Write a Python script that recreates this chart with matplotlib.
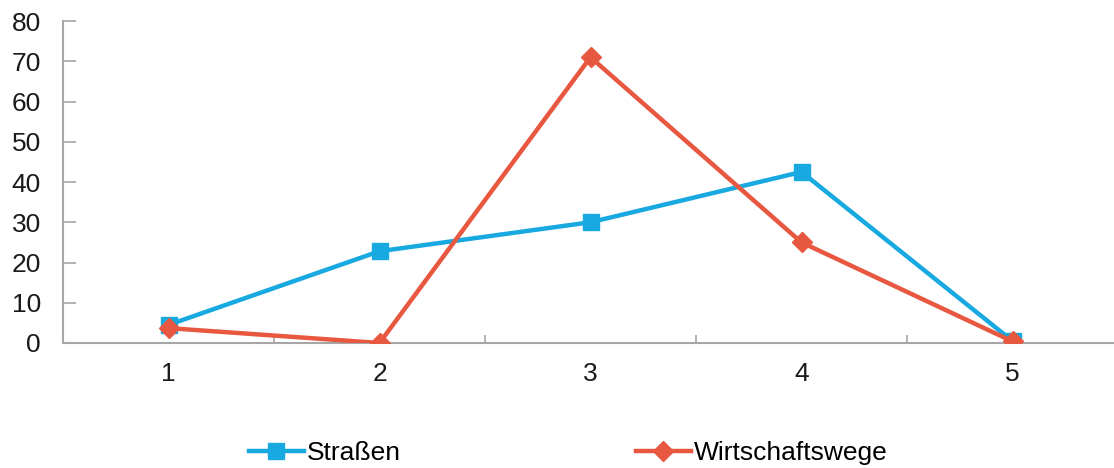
import matplotlib
matplotlib.use("Agg")
import matplotlib.pyplot as plt
from matplotlib.ticker import FixedLocator

plt.rcParams['font.family'] = ['Liberation Sans', 'DejaVu Sans']

categories = ['1', '2', '3', '4', '5']
strassen = [4.5, 22.8, 30.0, 42.5, 0.5]
wirtschaftswege = [3.7, 0.0, 71.0, 25.0, 0.4]
yticks = [0, 10, 20, 30, 40, 50, 60, 70, 80]

blue = '#18A9E1'
red = '#E8573F'
grey = '#A6A6A6'

W, H = 1114, 468
fig = plt.figure(figsize=(W / 100, H / 100), dpi=100)
ax = fig.add_axes([63 / W, (H - 343) / H, 1055 / W, (343 - 21) / H])

x = list(range(1, len(categories) + 1))
ax.plot(x, strassen, color=blue, lw=3.2, marker='s', ms=11, label='Straßen', zorder=3)
ax.plot(x, wirtschaftswege, color=red, lw=3.2, marker='D', ms=10, label='Wirtschaftswege', zorder=4)

ax.set_xlim(0.5, len(categories) + 0.5)
ax.set_ylim(0, 80)
ax.set_yticks(yticks)
ax.set_xticks(x)
ax.set_xticklabels(categories)
ax.xaxis.set_minor_locator(FixedLocator([1.5, 2.5, 3.5, 4.5]))

for s in ['top', 'right']:
    ax.spines[s].set_visible(False)
for s in ['left', 'bottom']:
    ax.spines[s].set_color(grey)
    ax.spines[s].set_linewidth(1.5)

ax.tick_params(axis='y', direction='in', length=9, width=1.2, color=grey, labelsize=19, pad=16)
ax.tick_params(axis='x', which='major', length=0, labelsize=19, pad=14)
ax.tick_params(axis='x', which='minor', direction='in', length=6, width=1.2, color=grey)
for lab in ax.get_yticklabels() + ax.get_xticklabels():
    lab.set_color('#1a1a1a')

fig.legend(loc='center', bbox_to_anchor=(568 / W, 1 - 453 / H), ncol=2, frameon=False,
           fontsize=19, handlelength=2.1, handletextpad=0.1, columnspacing=8.9)

fig.savefig('out.png', dpi=100)
